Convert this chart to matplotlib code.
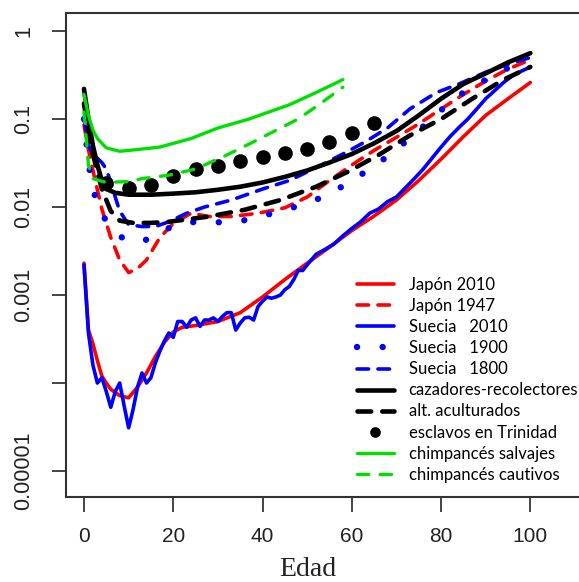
"""
Mortality rate vs. age (log scale) for humans and chimpanzees.
"""

import matplotlib
matplotlib.use('Agg')
from matplotlib import pyplot as plt

# Japan 2010
japan2010Ages = [0, 1, 2, 3, 4, 5, 6, 8, 10, 12, 14, 16, 18, 20, 22, 25, 30, 35, 40, 45,
                 50, 55, 60, 65, 70, 75, 80, 85, 90, 95, 100]
japan2010Rates = [0.0023, 0.0004, 0.00028, 0.00018, 0.00012, 0.0001, 0.000085, 0.000072,
                  0.000068, 0.00009, 0.00013, 0.0002, 0.00029, 0.00038, 0.00043, 0.00045,
                  0.0005, 0.00063, 0.00095, 0.0015, 0.0023, 0.0035, 0.0054, 0.0079, 0.012,
                  0.02, 0.035, 0.063, 0.11, 0.17, 0.26]

# Japan 1947
japan1947Ages = [0, 1, 2, 4, 6, 8, 10, 12, 14, 17, 20, 24, 28, 33, 39, 45, 50, 55, 60, 65,
                 70, 75, 80, 85, 90, 95, 100]
japan1947Rates = [0.085, 0.045, 0.026, 0.0095, 0.0045, 0.0025, 0.0018, 0.002, 0.0025, 0.0045,
                  0.0065, 0.0085, 0.0078, 0.0078, 0.0085, 0.0098, 0.013, 0.02, 0.03, 0.044,
                  0.062, 0.088, 0.13, 0.19, 0.27, 0.37, 0.47]

# Sweden 2010
sweden2010Ages = list(range(0, 50)) + list(range(50, 101, 2))
sweden2010Rates = [0.0022, 0.00037, 0.00016, 0.0001, 0.000115, 0.00008, 0.000053, 0.00008,
                   0.0001, 0.000055, 0.000031, 0.00005, 0.00009, 0.00013, 0.0001, 0.000115,
                   0.00017, 0.00023, 0.0003, 0.00037, 0.00033, 0.0005, 0.0005, 0.00043,
                   0.00052, 0.00055, 0.00044, 0.00052, 0.00052, 0.00055, 0.0005, 0.00057,
                   0.00063, 0.00063, 0.0004, 0.00048, 0.00055, 0.00056, 0.00052, 0.00074,
                   0.00085, 0.00095, 0.00092, 0.00095, 0.001, 0.00115, 0.00125, 0.0015,
                   0.0019, 0.0019,
                   0.0022, 0.0029, 0.0033, 0.0038, 0.0047, 0.0057, 0.0068, 0.0085, 0.0095,
                   0.0115, 0.013, 0.0165, 0.021, 0.027, 0.036, 0.048, 0.063, 0.08, 0.1,
                   0.13, 0.17, 0.21, 0.26, 0.31, 0.35, 0.39]

# Sweden 1900
sweden1900Ages = [0, 1, 2, 3, 5, 7, 9, 11, 13, 16, 20, 25, 30, 35, 40, 45, 50, 55, 60, 65,
                  70, 75, 80, 85, 90, 95, 100]
sweden1900Rates = [0.1, 0.032, 0.016, 0.011, 0.0068, 0.0052, 0.0043, 0.004, 0.0041, 0.0046,
                   0.0062, 0.0068, 0.0067, 0.0069, 0.0079, 0.0093, 0.011, 0.014, 0.02, 0.029,
                   0.045, 0.074, 0.126, 0.2, 0.28, 0.38, 0.48]

# Sweden 1800
sweden1800Ages = [0, 1, 2, 4, 5, 6, 7, 8, 10, 13, 16, 19, 23, 27, 33, 40, 46, 52, 58, 63,
                  68, 73, 79, 84, 90, 95, 100]
sweden1800Rates = [0.1, 0.05, 0.04, 0.032, 0.027, 0.019, 0.013, 0.009, 0.0063, 0.006, 0.006,
                   0.0068, 0.0085, 0.01, 0.012, 0.016, 0.02, 0.028, 0.04, 0.055, 0.079, 0.13,
                   0.2, 0.25, 0.34, 0.42, 0.5]

# hunter-gatherers
hunterAges = [0, 1, 2, 3, 4, 5, 7, 10, 15, 20, 25, 30, 35, 40, 45, 50, 55, 60, 65, 70, 75,
              80, 85, 90, 95, 100]
hunterRates = [0.22, 0.1, 0.05, 0.03, 0.02, 0.016, 0.0145, 0.0138, 0.0138, 0.0142, 0.0147,
               0.0157, 0.017, 0.019, 0.022, 0.026, 0.032, 0.04, 0.053, 0.073, 0.11, 0.17,
               0.25, 0.33, 0.44, 0.56]

# acculturated hunter-gatherers
acculturatedAges = [0, 1, 2, 3, 4, 5, 6, 8, 11, 15, 19, 28, 36, 44, 52, 59, 66, 73, 80, 87,
                    94, 100]
acculturatedRates = [0.15, 0.07, 0.04, 0.025, 0.016, 0.012, 0.009, 0.007, 0.0066, 0.0066,
                     0.0068, 0.0078, 0.0093, 0.012, 0.017, 0.025, 0.039, 0.065, 0.1, 0.17,
                     0.28, 0.39]

# slaves in Trinidad
slaveAges = [5, 10, 15, 20, 25, 30, 35, 40, 45, 50, 55, 60, 65]
slaveRates = [0.0186, 0.0166, 0.0178, 0.0224, 0.027, 0.0295, 0.033, 0.037, 0.041, 0.046,
              0.055, 0.069, 0.089]

# wild chimpanzees
wildChimpAges = [0, 1, 2, 3, 5, 8, 12, 17, 24, 30, 37, 46, 52, 58]
wildChimpRates = [0.19, 0.11, 0.075, 0.06, 0.047, 0.043, 0.045, 0.048, 0.06, 0.079, 0.1,
                  0.145, 0.2, 0.28]

# captive chimpanzees
captiveChimpAges = [0, 1, 2, 5, 10, 13, 19, 25, 32, 37, 42, 48, 53, 58]
captiveChimpRates = [0.12, 0.03, 0.021, 0.019, 0.0195, 0.021, 0.023, 0.027, 0.039, 0.052,
                     0.07, 0.1, 0.15, 0.23]

yTicks = [1, 0.1, 0.01, 0.001, 0.0001, 0.00001]
yTickLabels = ['1', '0.1', '0.01', '0.001', '', '0.00001']
xTicks = [0, 20, 40, 60, 80, 100]

RED = '#ff0000'
BLUE = '#0000ff'
GREEN = '#00e000'
BLACK = '#000000'

fig = plt.figure(figsize=(5.79, 5.82), dpi=100)
ax = fig.add_axes([66 / 579, 1 - 497 / 582, 517 / 579, 484 / 582])
ax.set_yscale('log')

lineKw = dict(solid_capstyle='round', dash_capstyle='round')
ax.plot(japan2010Ages, japan2010Rates, color=RED, lw=2.6, label='Japón 2010', **lineKw)
ax.plot(japan1947Ages, japan1947Rates, color=RED, lw=2.6, dashes=(3.2, 2.6),
        label='Japón 1947', **lineKw)
ax.plot(sweden2010Ages, sweden2010Rates, color=BLUE, lw=2.6, label='Suecia   2010', **lineKw)
ax.plot(sweden1900Ages, sweden1900Rates, color=BLUE, lw=4.6, dashes=(0.01, 4.0),
        label='Suecia   1900', **lineKw)
ax.plot(sweden1800Ages, sweden1800Rates, color=BLUE, lw=2.6, dashes=(3.2, 2.6),
        label='Suecia   1800', **lineKw)
ax.plot(hunterAges, hunterRates, color=BLACK, lw=3.3, label='cazadores-recolectores', **lineKw)
ax.plot(acculturatedAges, acculturatedRates, color=BLACK, lw=3.3, dashes=(3.0, 2.4),
        label='alt. aculturados', **lineKw)
ax.plot(slaveAges, slaveRates, 'o', color=BLACK, ms=9.5, label='esclavos en Trinidad')
ax.plot(wildChimpAges, wildChimpRates, color=GREEN, lw=2.4, label='chimpancés salvajes', **lineKw)
ax.plot(captiveChimpAges, captiveChimpRates, color=GREEN, lw=2.4, dashes=(3.4, 3.4),
        label='chimpancés cautivos', **lineKw)

ax.set_xlim(-4.03, 111.8)
ax.set_ylim(10 ** -5.295, 10 ** 0.2045)

ax.set_xticks(xTicks)
ax.set_xticklabels([str(t) for t in xTicks], fontsize=15, family='Liberation Sans', color='#222222')
ax.set_yticks(yTicks)
ax.set_yticklabels(yTickLabels, fontsize=15.5, family='Liberation Sans', color='#222222',
                   rotation=90, va='center')
ax.minorticks_off()
ax.tick_params(axis='x', length=10.5, width=1.4, color='#444444', pad=11)
ax.tick_params(axis='y', length=10, width=1.4, color='#444444', pad=13)
for spine in ax.spines.values():
    spine.set_linewidth(1.5)
    spine.set_color('#333333')

fig.text(308 / 579, 1 - 570 / 582, 'Edad', ha='center', va='center', fontsize=20,
         family='Liberation Serif', color='#222222')

ax.legend(loc='upper left', bbox_to_anchor=(357 / 579, 1 - 277 / 582),
          bbox_transform=fig.transFigure, frameon=False, borderpad=0, borderaxespad=0,
          handlelength=2.2, handletextpad=0.9, labelspacing=0.305, markerscale=0.7,
          prop={'family': 'Lato', 'size': 12})

fig.savefig('out.png', dpi=100)
